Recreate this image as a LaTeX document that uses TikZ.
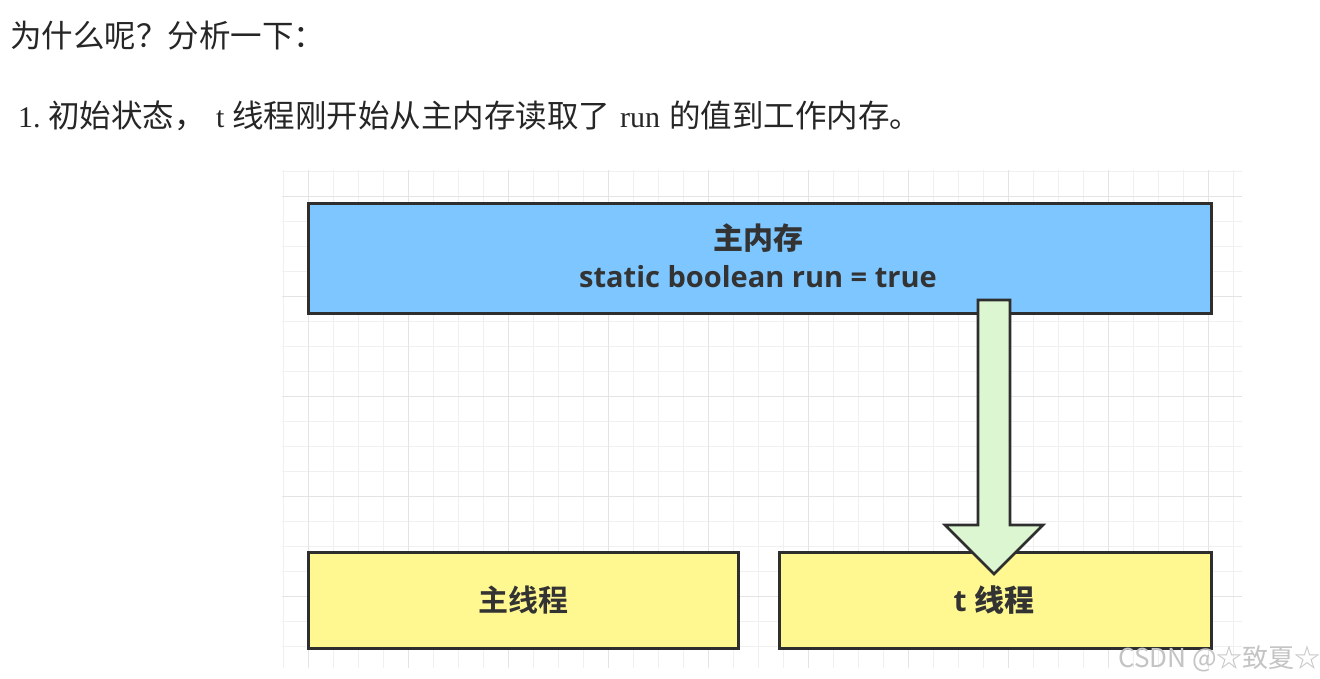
\documentclass[tikz,border=0pt]{standalone}
\usepackage{fontspec}
\usetikzlibrary{calc}
\setmainfont{Liberation Serif}
\newfontfamily\cjk{Noto Sans CJK SC}
\newfontfamily\cjkb{Noto Sans CJK SC Bold}
\newfontfamily\boxsans{Open Sans}[BoldFont={Open Sans Bold}]
\definecolor{memblue}{HTML}{7DC6FF}
\definecolor{thrylw}{HTML}{FFF891}
\definecolor{arrgrn}{HTML}{DDF6D2}
\definecolor{edge}{HTML}{2E2E2E}
\definecolor{txt}{HTML}{333333}
\definecolor{gridminor}{HTML}{F0F0F0}
\definecolor{gridmajor}{HTML}{E4E4E4}
\definecolor{wm}{HTML}{C4C4C4}
\tikzset{
  x=1pt,y=-1pt,
  membox/.style={draw=edge,line width=2.6pt,fill=memblue,inner sep=0pt,anchor=north west},
  thrbox/.style={draw=edge,line width=2.6pt,fill=thrylw,inner sep=0pt,anchor=north west},
  boxtext/.style={text=txt,font=\fontsize{29}{38}\selectfont\bfseries\boxsans,align=center},
  cjktext/.style={anchor=base west,inner sep=0pt,text=black!85,font=\fontsize{31.5}{36}\selectfont\cjk},
  serif/.style={anchor=base west,inner sep=0pt,text=black!85,font=\fontsize{30}{36}\selectfont\rmfamily},
}
\begin{document}
\begin{tikzpicture}
\useasboundingbox[fill=white] (0,0) rectangle (1320,678);
% grid
\foreach \xx in {283,308,...,1240} \draw[gridminor,line width=1pt] (\xx,170) -- (\xx,668);
\foreach \yy in {171,196,...,668} \draw[gridminor,line width=1pt] (282,\yy) -- (1242,\yy);
\foreach \xx in {308,408,...,1240} \draw[gridmajor,line width=1pt] (\xx,170) -- (\xx,668);
\foreach \yy in {196,296,...,668} \draw[gridmajor,line width=1pt] (282,\yy) -- (1242,\yy);
% heading texts
\node[cjktext] (h1) at (10,47) {为什么呢？分析一下：};
\node[serif] (n1) at (18,127) {1.};
\node[cjktext] (s1) at (48,127) {初始状态，};
\node[serif] (s2) at (216,127) {t};
\node[cjktext] (s3) at (232,127) {线程刚开始从主内存读取了};
\node[serif] (s4) at (620,127) {run};
\node[cjktext] (s5) at (669,127) {的值到工作内存。};
% boxes
\node[membox,minimum width=903pt,minimum height=110pt] (mem) at (307,202) {};
\node[boxtext] (memt) at (758,256) {{\cjkb\fontsize{30}{38}\selectfont 主内存}\\static boolean run = true};
\node[thrbox,minimum width=430pt,minimum height=96pt] (main) at (307,551) {};
\node[boxtext,font=\fontsize{30}{36}\selectfont\cjkb] (maint) at (main.center) {主线程};
\node[thrbox,minimum width=432pt,minimum height=96pt] (tthr) at (778,551) {};
% arrow from memory to t thread
\coordinate (atop) at (994,300);
\coordinate (atip) at (994,574);
\draw[edge,line width=2.6pt,fill=arrgrn,line join=miter]
  ($(atop)+(-16,0)$) -- ($(atop)+(16,0)$) -- ($(atip)+(16,-49)$) -- ($(atip)+(49,-49)$)
  -- (atip) -- ($(atip)+(-49,-49)$) -- ($(atip)+(-16,-49)$) -- cycle;
\node[boxtext,font=\fontsize{30}{36}\selectfont\bfseries\boxsans] (tt) at (994,600) {t {\cjkb 线程}};
% watermark
\node[anchor=base west,inner sep=0pt,text=wm,font=\fontsize{26}{28}\selectfont\cjk] (wmk) at (1118,667) {CSDN @☆致夏☆};
\end{tikzpicture}
\end{document}
